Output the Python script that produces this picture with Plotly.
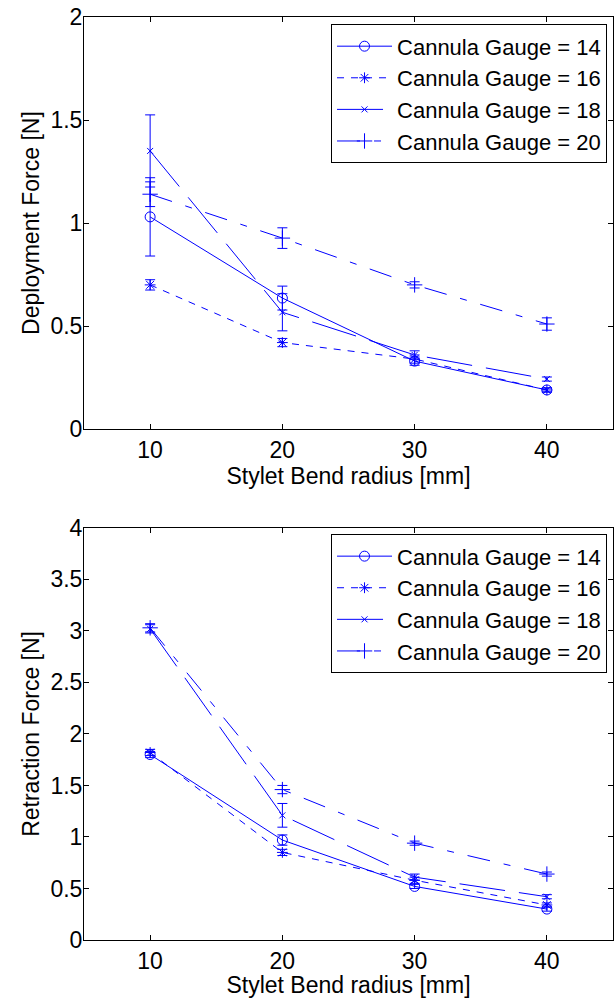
import plotly.graph_objects as go
from plotly.subplots import make_subplots

radius = [10, 20, 30, 40]
gauges = ["14", "16", "18", "20"]

dep_g14 = [1.03, 0.636, 0.33, 0.19]
dep_g14_err = [0.19, 0.058, 0.02, 0.01]
dep_g16 = [0.70, 0.42, 0.34, 0.19]
dep_g16_err = [0.025, 0.02, 0.02, 0.01]
dep_g18 = [1.35, 0.567, 0.36, 0.243]
dep_g18_err = [0.175, 0.09, 0.02, 0.01]
dep_g20 = [1.14, 0.927, 0.70, 0.51]
dep_g20_err = [0.06, 0.05, 0.015, 0.03]

ret_g14 = [1.80, 0.97, 0.52, 0.30]
ret_g14_err = [0.03, 0.05, 0.02, 0.02]
ret_g16 = [1.82, 0.85, 0.58, 0.34]
ret_g16_err = [0.03, 0.03, 0.03, 0.02]
ret_g18 = [3.02, 1.21, 0.61, 0.42]
ret_g18_err = [0.04, 0.115, 0.03, 0.02]
ret_g20 = [3.03, 1.46, 0.94, 0.64]
ret_g20_err = [0.04, 0.04, 0.02, 0.02]

BLUE = "rgb(0,0,255)"
FONT = "Arial, Liberation Sans, sans-serif"
AX_FS = 23
LEG_FS = 22

styles = [
    dict(dash="solid", symbol="circle-open", size=10),
    dict(dash="7px,7px", symbol="asterisk-open", size=9),
    dict(dash="46px,14px", symbol="x-thin-open", size=6),
    dict(dash="23px,14px,7px,14px", symbol="cross-thin-open", size=11),
]

fig = make_subplots(rows=2, cols=1, vertical_spacing=0.1070)

dep = [(dep_g14, dep_g14_err), (dep_g16, dep_g16_err), (dep_g18, dep_g18_err), (dep_g20, dep_g20_err)]
ret = [(ret_g14, ret_g14_err), (ret_g16, ret_g16_err), (ret_g18, ret_g18_err), (ret_g20, ret_g20_err)]

for row, data, leg in [(1, dep, "legend"), (2, ret, "legend2")]:
    for g, (vals, errs), st in zip(gauges, data, styles):
        fig.add_trace(go.Scatter(
            x=radius, y=vals, mode="lines+markers",
            name=f"Cannula Gauge = {g}",
            line=dict(color=BLUE, width=1, dash=st["dash"]),
            marker=dict(symbol=st["symbol"], size=st["size"], color=BLUE,
                        line=dict(color=BLUE, width=1)),
            error_y=dict(type="data", array=errs, visible=True, color=BLUE,
                         thickness=1, width=5),
            legend=leg,
        ), row=row, col=1)

axis_common = dict(showline=True, linecolor="black", linewidth=1, mirror="ticks",
                   ticks="inside", ticklen=5, tickcolor="black", showgrid=False,
                   zeroline=False, tickfont=dict(family=FONT, size=AX_FS, color="black"))

fig.update_xaxes(range=[5, 45], tickvals=radius,
                 title=dict(text="Stylet Bend radius [mm]", standoff=4,
                            font=dict(family=FONT, size=AX_FS, color="black")),
                 row=1, col=1, **axis_common)
fig.update_xaxes(range=[5, 45], tickvals=radius,
                 title=dict(text="Stylet Bend radius [mm]", standoff=6,
                            font=dict(family=FONT, size=AX_FS, color="black")),
                 row=2, col=1, **axis_common)

fig.update_yaxes(range=[0, 2], dtick=0.5, ticklabelstandoff=-4,
                 title=dict(text="Deployment Force [N]", standoff=4,
                            font=dict(family=FONT, size=AX_FS, color="black")),
                 row=1, col=1, **axis_common)
fig.update_yaxes(range=[0, 4], dtick=0.5, ticklabelstandoff=-4,
                 title=dict(text="Retraction Force [N]", standoff=4,
                            font=dict(family=FONT, size=AX_FS, color="black")),
                 row=2, col=1, **axis_common)

leg_common = dict(x=0.9887, xanchor="right", yanchor="top",
                  bordercolor="black", borderwidth=1, bgcolor="white",
                  itemwidth=55, font=dict(family=FONT, size=LEG_FS, color="black"),
                  tracegroupgap=0)

fig.update_layout(
    width=616, height=998,
    margin=dict(l=84, r=2, t=17, b=56),
    paper_bgcolor="white", plot_bgcolor="white",
    font=dict(family=FONT, size=AX_FS, color="black"),
    legend=dict(y=0.992, **leg_common),
    legend2=dict(y=0.4395, **leg_common),
)

fig.write_html("out.html", config={"displayModeBar": False},
               post_script="document.body.style.margin='0';document.body.style.overflow='hidden';")
